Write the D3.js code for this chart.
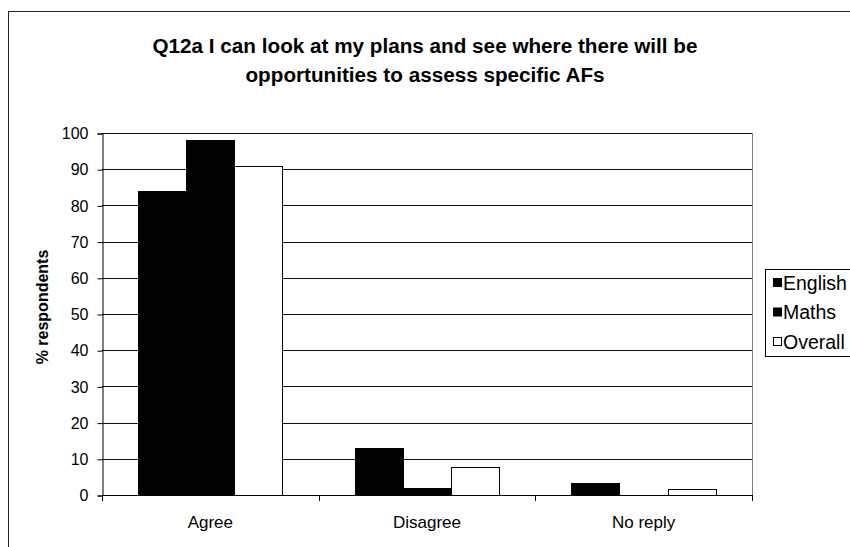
<!DOCTYPE html>
<html>
<head>
<meta charset="utf-8">
<script src="https://cdn.jsdelivr.net/npm/d3@7"></script>
<style>
  html, body { margin: 0; padding: 0; background: #fff; }
  svg { display: block; font-family: "Liberation Sans", Arial, sans-serif; }
</style>
</head>
<body>
<svg id="chart" width="850" height="547"></svg>
<script>
// Survey responses (% of respondents)
const categories = ["Agree", "Disagree", "No reply"];
const seriesNames = ["English", "Maths", "Overall"];
const english = [83.9, 12.9, 3.2];
const maths = [98.0, 2.0, 0.0];
const overall = [90.8, 7.7, 1.6];
const yTicks = [0, 10, 20, 30, 40, 50, 60, 70, 80, 90, 100];
const titleLines = [
  "Q12a I can look at my plans and see where there will be",
  "opportunities to assess specific AFs"
];
const yTitle = "% respondents";

const seriesValues = [english, maths, overall];
const fills = ["#000", "#000", "#fff"];
const FONT = "'Liberation Sans', Arial, sans-serif";

const svg = d3.select("#chart");

// outer chart frame
svg.append("rect")
  .attr("x", 8.5).attr("y", 11.5)
  .attr("width", 860).attr("height", 560)
  .attr("fill", "#fff").attr("stroke", "#222").attr("stroke-width", 1);

const plot = { left: 102, right: 752, top: 133, bottom: 495 };

const x = d3.scaleBand().domain(categories).range([plot.left, plot.right]);
// three bars per group with a 150% gap split on both sides
const inner = d3.scaleBand().domain(seriesNames).range([0, x.bandwidth()]).paddingOuter(0.75);
const y = d3.scaleLinear().domain([0, 100]).range([plot.bottom, plot.top]);

// gridlines
svg.append("g").selectAll("line").data(yTicks.filter(d => d > 0)).join("line")
  .attr("x1", plot.left).attr("x2", plot.right)
  .attr("y1", d => Math.round(y(d)) + 0.5).attr("y2", d => Math.round(y(d)) + 0.5)
  .attr("stroke", "#111").attr("stroke-width", 1);

// plot area border (right side)
svg.append("line")
  .attr("x1", plot.right + 0.5).attr("x2", plot.right + 0.5)
  .attr("y1", plot.top).attr("y2", plot.bottom)
  .attr("stroke", "#808080");

// bars
const groups = svg.append("g").selectAll("g").data(seriesNames).join("g")
  .attr("fill", (d, i) => fills[i]);
groups.selectAll("rect")
  .data((s, si) => categories.map((c, ci) => ({ c, s, v: seriesValues[si][ci] })))
  .join("rect")
  .attr("x", d => Math.round(x(d.c) + inner(d.s)) + 0.5)
  .attr("width", d => Math.round(inner.bandwidth()))
  .attr("y", d => Math.round(y(d.v)) + 0.5)
  .attr("height", d => Math.max(0, Math.round(y(0)) - Math.round(y(d.v))))
  .attr("stroke", "#000").attr("stroke-width", 1);

// y axis
const yAxis = d3.axisLeft(y).tickValues(yTicks).tickSize(5).tickPadding(9);
const gy = svg.append("g").attr("transform", `translate(${plot.left + 0.5},0.5)`).call(yAxis);
gy.selectAll("text").attr("font-size", 16).attr("fill", "#000").attr("font-family", FONT);
gy.selectAll("line,path").attr("stroke", "#000");

// x axis with ticks at category boundaries
svg.append("line")
  .attr("x1", plot.left).attr("x2", plot.right)
  .attr("y1", plot.bottom + 0.5).attr("y2", plot.bottom + 0.5)
  .attr("stroke", "#000");
const boundaries = categories.map(c => x(c)).concat([plot.right]);
svg.append("g").selectAll("line").data(boundaries).join("line")
  .attr("x1", d => Math.round(d) + 0.5).attr("x2", d => Math.round(d) + 0.5)
  .attr("y1", plot.bottom).attr("y2", plot.bottom + 6)
  .attr("stroke", "#000");
svg.append("g").selectAll("text").data(categories).join("text")
  .attr("x", d => x(d) + x.bandwidth() / 2)
  .attr("y", 528)
  .attr("text-anchor", "middle")
  .attr("font-size", 17)
  .text(d => d);

// y axis title
svg.append("text")
  .attr("transform", `translate(47.5,307) rotate(-90)`)
  .attr("text-anchor", "middle")
  .attr("font-size", 16).attr("font-weight", "bold")
  .text(yTitle);

// title
svg.append("g").selectAll("text").data(titleLines).join("text")
  .attr("x", 425)
  .attr("y", (d, i) => 53 + i * 29)
  .attr("text-anchor", "middle")
  .attr("font-size", 20.7).attr("font-weight", "bold")
  .text(d => d);

// legend
const lg = svg.append("g");
lg.append("rect")
  .attr("x", 765.5).attr("y", 269.5).attr("width", 100).attr("height", 87)
  .attr("fill", "#fff").attr("stroke", "#000");
const items = lg.selectAll("g").data(seriesNames).join("g")
  .attr("transform", (d, i) => `translate(0,${283 + i * 29.5})`);
items.append("rect")
  .attr("x", 773.5).attr("y", -4.5).attr("width", 8).attr("height", 8)
  .attr("fill", (d, i) => fills[i]).attr("stroke", "#000");
items.append("text")
  .attr("x", 783).attr("y", 6.5)
  .attr("font-size", 19.5)
  .text(d => d);
</script>
</body>
</html>
